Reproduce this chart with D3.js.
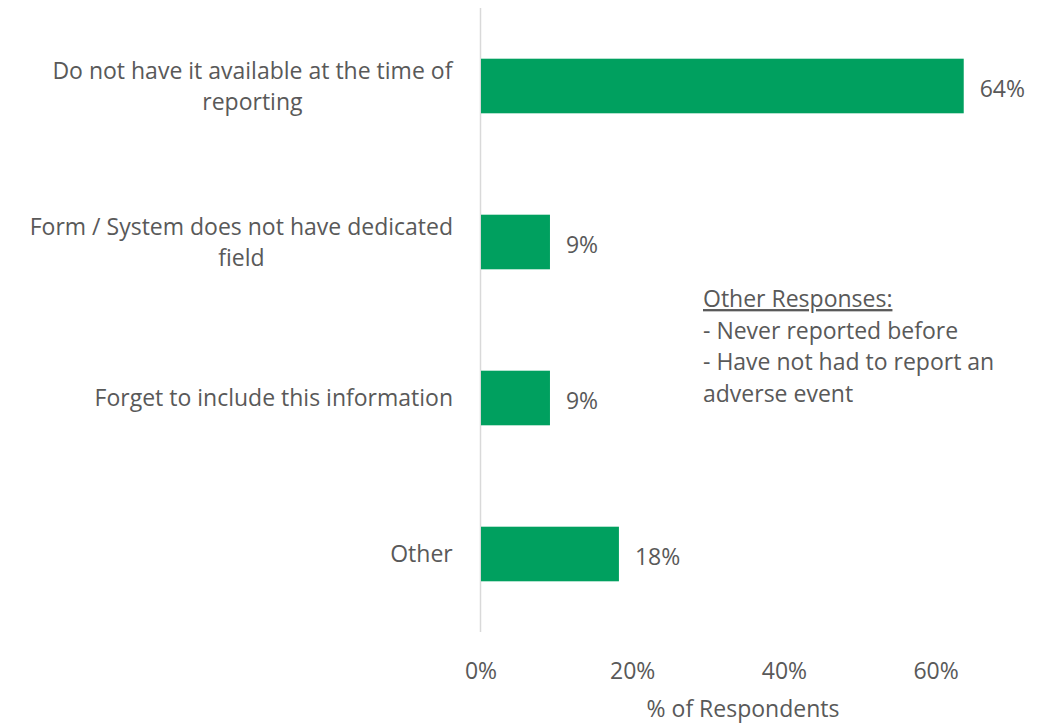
<!DOCTYPE html>
<html><head><meta charset="utf-8">
<script src="https://cdn.jsdelivr.net/npm/d3@7"></script>
<style>body{margin:0;background:#fff}svg{display:block}text{font-family:"Open Sans","Noto Sans",sans-serif;fill:#595959}</style>
</head><body><div id="c"></div>
<script>
const categories = [
  ["Do not have it available at the time of", "reporting"],
  ["Form / System does not have dedicated", "field"],
  ["Forget to include this information"],
  ["Other"]
];
const values = [7/11, 1/11, 1/11, 2/11];
const valueLabels = ["64%", "9%", "9%", "18%"];
const ticks = [0, 0.2, 0.4, 0.6];
const noteLines = ["Other Responses:", "- Never reported before", "- Have not had to report an", "adverse event"];

const W = 1051, H = 724, FS = 23;
const svg = d3.select("#c").append("svg").attr("width", W).attr("height", H);
const x = d3.scaleLinear().domain([0, 0.7]).range([481, 1012]);
const y = d3.scaleBand().domain(d3.range(categories.length)).range([8, 632]).paddingInner(0.65).paddingOuter(0.325);

svg.append("line").attr("x1", 480.5).attr("x2", 480.5).attr("y1", 8).attr("y2", 632)
  .attr("stroke", "#d9d9d9").attr("stroke-width", 1.5);

svg.selectAll("rect.bar").data(values).join("rect").attr("class", "bar")
  .attr("x", x(0)).attr("y", (d, i) => y(i)).attr("width", d => x(d) - x(0)).attr("height", y.bandwidth())
  .attr("fill", "#00a05f");

svg.selectAll("text.val").data(values).join("text").attr("class", "val")
  .attr("x", d => x(d) + 16).attr("y", (d, i) => y(i) + y.bandwidth() / 2 + 3).attr("dy", "0.35em")
  .attr("font-size", FS).text((d, i) => valueLabels[i]);

const lh = 31;
categories.forEach((lines, i) => {
  const cy = y(i) + y.bandwidth() / 2;
  const t = svg.append("text").attr("text-anchor", "middle").attr("font-size", FS);
  const n = lines.length;
  lines.forEach((l, j) => {
    t.append("tspan").attr("x", 0).attr("y", cy + (j - (n - 1) / 2) * lh).attr("dy", "0.35em").text(l);
  });
  const bb = t.node().getBBox();
  t.attr("transform", `translate(${453 - bb.width / 2},0)`);
});

const ax = svg.append("g").attr("transform", "translate(0,671)");
ax.selectAll("text").data(ticks).join("text").attr("x", d => x(d)).attr("text-anchor", "middle")
  .attr("dy", "0.35em").attr("font-size", FS).text(d => d3.format(".0%")(d));

svg.append("text").attr("x", 743).attr("y", 709).attr("text-anchor", "middle").attr("dy", "0.35em")
  .attr("font-size", FS).text("% of Respondents");

const note = svg.append("g");
noteLines.forEach((l, j) => {
  const t = note.append("text").attr("x", 703).attr("y", 299 + j * 31.5).attr("dy", "0.35em").attr("font-size", FS).text(l);
  if (j === 0) t.attr("text-decoration", "underline");
});
</script></body></html>
